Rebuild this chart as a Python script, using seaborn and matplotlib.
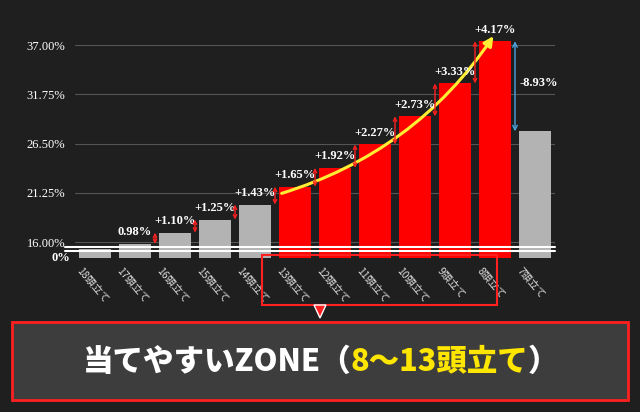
import matplotlib
matplotlib.use("Agg")
import matplotlib.pyplot as plt
import matplotlib.transforms as mtransforms
import seaborn as sns
import pandas as pd
from matplotlib.patches import Rectangle, FancyArrowPatch, Polygon
from matplotlib.offsetbox import TextArea, HPacker, AnchoredOffsetbox

categories = ["18頭立て","17頭立て","16頭立て","15頭立て","14頭立て","13頭立て","12頭立て",
              "11頭立て","10頭立て","9頭立て","8頭立て","7頭立て"]
values = [15.3, 15.8, 17.0, 18.4, 20.0, 21.9, 23.9, 26.4, 29.4, 32.9, 37.4, 27.8]
diff_labels = [None, "0.98%", "+1.10%", "+1.25%", "+1.43%", "+1.65%", "+1.92%",
               "+2.27%", "+2.73%", "+3.33%", "+4.17%", "-8.93%"]
groups = ["other"]*5 + ["zone"]*6 + ["other"]
yticks = [16.00, 21.25, 26.50, 31.75, 37.00]

sns.set_style("dark")
plt.rcParams['font.family'] = ['Noto Sans CJK JP', 'DejaVu Sans']
BG = "#1f1f1f"
W, H = 640, 412
fig = plt.figure(figsize=(6.4, 4.12), dpi=100, facecolor=BG)
ax = fig.add_axes([75/W, 1-258/H, 480/W, (258-30)/H], facecolor=BG)
ymin = 14.3
df = pd.DataFrame({"cat": categories, "val": [v - ymin for v in values], "grp": groups})
sns.barplot(data=df, x="cat", y="val", hue="grp", bottom=ymin, dodge=False, saturation=1,
            palette={"other": "#b3b3b3", "zone": "#ff0000"}, width=0.8, legend=False,
            linewidth=0, edgecolor="none", ax=ax)
ax.set_ylim(ymin, 38.6)
ax.set_yticks(yticks)
ax.set_yticklabels([f"{t:.2f}%" for t in yticks], color="white", fontsize=9,
                   family=['Liberation Serif'])
ax.grid(axis="y", color="#555555", lw=0.8)
ax.set_axisbelow(True)
for s in ax.spines.values():
    s.set_visible(False)
ax.set_xlabel(""); ax.set_ylabel("")
ax.tick_params(axis="x", length=0, pad=5)
ax.set_xticks(range(len(categories)))
ax.set_xticklabels(categories, rotation=-50, ha="left", rotation_mode="anchor",
                   color="#dddddd", fontsize=7.5)
off = mtransforms.ScaledTranslation(-12/100, 0, fig.dpi_scale_trans)
for lab in ax.get_xticklabels():
    lab.set_transform(lab.get_transform() + off)
ax.text(-0.01, ymin, "0%", transform=ax.get_yaxis_transform(), ha="right", va="center",
        color="white", fontsize=9, family=['Liberation Serif'], fontweight="bold")
for yy in (15.0, 15.45):
    ax.axhline(yy, color="white", lw=1.5, xmin=-0.02, xmax=1.0, clip_on=False)

for i in range(1, len(values)):
    lab = diff_labels[i]
    if i < len(values) - 1:
        ax.text(i, values[i] + 0.6, lab, ha="center", va="bottom", color="white",
                fontsize=9, fontweight="bold", family=['Liberation Serif'])
        if i > 1:
            ax.annotate("", xy=(i - 0.5, values[i]), xytext=(i - 0.5, values[i-1]),
                        arrowprops=dict(arrowstyle="<->", color="#ff2020", lw=1, shrinkA=0, shrinkB=0,
                                        mutation_scale=6))
    else:
        ax.annotate("", xy=(i - 0.5, values[i]), xytext=(i - 0.5, values[i-1]),
                    arrowprops=dict(arrowstyle="<->", color="#4aa3df", lw=1, shrinkA=0, shrinkB=0,
                                    mutation_scale=8))
        ax.text(i - 0.4, values[i-1] - 4.5, lab, ha="left", va="center", color="white",
                fontsize=9, fontweight="bold", family=['Liberation Serif'])

arr = FancyArrowPatch((4.6, 21.1), (10.0, 38.2), connectionstyle="arc3,rad=0.18",
                      arrowstyle="-|>", mutation_scale=14, color="#ffee33", lw=2.2)
ax.add_patch(arr)

fig.patches.append(Rectangle((262/W, 1-305/H), 235/W, 50/H, transform=fig.transFigure,
                             fill=False, edgecolor="#ff2020", lw=1.5))
fig.patches.append(Polygon([(314/W, 1-305/H), (326/W, 1-305/H), (320/W, 1-318/H)],
                           transform=fig.transFigure, closed=True, facecolor="#ff2020"))
fig.patches.append(Rectangle((12/W, 1-400/H), 616/W, 78/H, transform=fig.transFigure,
                             facecolor="#3d3d3d", edgecolor="#ff2020", lw=2))
fp = dict(fontsize=22, fontweight="heavy", family=['Noto Sans CJK JP'])
t1 = TextArea("当てやすいZONE（", textprops=dict(color="white", **fp))
t2 = TextArea("8～13頭立て", textprops=dict(color="#ffe600", style="italic", **fp))
t3 = TextArea("）", textprops=dict(color="white", **fp))
box = HPacker(children=[t1, t2, t3], align="center", pad=0, sep=0)
ab = AnchoredOffsetbox(loc="center", child=box, frameon=False,
                       bbox_to_anchor=(320/W, 1-361/H), bbox_transform=fig.transFigure)
fig.add_artist(ab)

fig.savefig("out.png", dpi=100, facecolor=BG)
